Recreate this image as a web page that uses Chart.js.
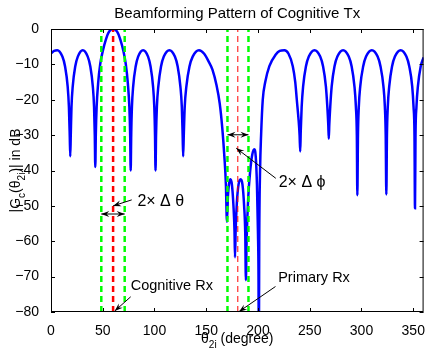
<!DOCTYPE html>
<html>
<head>
<meta charset="utf-8">
<script src="https://cdn.jsdelivr.net/npm/chart.js@4.4.0/dist/chart.umd.min.js"></script>
<style>
  html, body { margin: 0; padding: 0; background: #fff; }
  #wrap { width: 428px; height: 352px; }
</style>
</head>
<body>
<div id="wrap"><canvas id="patron" width="428" height="352"></canvas></div>
<script>
// Patron de beamforming: angulo en grados, ganancia en dB
var anguloGrados = [
  0, 3, 6, 11.0, 13.6, 16.1, 17.3, 18.1, 18.6,
  19.1, 19.8, 21.0, 23.4, 25.9, 30.7, 35.5, 38.0, 40.4, 41.6, 42.3, 42.8,
  43.3, 44.1, 45.5, 47.5, 50, 53, 56, 60, 64, 67, 70, 72.3, 74.3, 75.7, 76.5, 77,
  77.5, 78.2, 79.4, 81.8, 84.2, 89, 93.8, 96.2, 98.6, 99.8, 100.5, 101,
  101.5, 102.3, 103.7, 106.3, 109, 114.4, 119.7, 122.4, 125, 126.4, 127.2, 127.7,
  128.3, 129.2, 130.8, 133.8, 136.9, 143, 148, 152, 156, 160, 163, 165.5, 167.5, 169, 170,
  171, 172.2, 173.4, 174.8, 176.3, 177.3, 177.8, 178.4, 179.6, 181.2, 183.3, 185, 186.6, 187.7, 188.3,
  189, 190.5, 192.5, 194.5, 196.3, 197.8, 199, 200, 200.5, 200.8,
  201.2, 202, 203, 204.6, 207, 211, 217, 221, 225.5, 229.5, 233.6, 236, 237.5, 239.3, 240.2, 240.8,
  241.3, 242.2, 243.6, 246.3, 249.1, 254.6, 260.1, 262.9, 265.6, 267, 267.9, 268.4,
  268.9, 269.8, 271.2, 273.9, 276.7, 282.2, 287.7, 290.5, 293.2, 294.6, 295.5, 296,
  296.6, 297.4, 298.8, 301.6, 304.4, 310, 315.6, 318.4, 321.2, 322.6, 323.4, 324,
  324.6, 325.4, 326.8, 329.5, 332.3, 337.9, 343.4, 346.2, 349, 350.3, 351.2, 351.7,
  352.2, 353.1, 354.5, 357.2, 360
];
var gananciaDb = [
  -6.9, -6.2, -6.0, -7.8, -10.6, -16.2, -22, -30, -36,
  -30, -22, -16.2, -10.6, -7.8, -6, -7.8, -10.6, -16.2, -22, -30, -39,
  -30, -22, -15.5, -10, -6.3, -3, -0.8, 0, -0.8, -3, -6.3, -10, -15.5, -22, -30, -40,
  -30, -22, -16.2, -10.6, -7.8, -6, -7.8, -10.6, -16.2, -22, -30, -40,
  -30, -22, -16.2, -10.6, -7.8, -6, -7.8, -10.6, -16.2, -22, -30, -36,
  -30, -22, -16.2, -10.6, -7.8, -6, -7, -9, -11.5, -16, -21, -28, -36, -44, -54.5,
  -47, -43.5, -42.5, -44, -50, -57, -64.5, -57, -49, -44, -42.5, -44, -50, -58, -71,
  -60, -48, -40, -35.5, -34, -36, -44, -58, -70, -95,
  -60, -40, -30, -20, -15, -10.5, -7.3, -6.2, -6, -7, -10.5, -15, -20, -26, -30, -34.6,
  -29, -22, -16.2, -10.6, -7.8, -6, -7.8, -10.6, -16.2, -22, -27, -31,
  -27, -22, -16.2, -10.6, -7.8, -6, -7.8, -10.6, -16.2, -22, -30, -47,
  -30, -22, -16.2, -10.6, -7.8, -6, -7.8, -10.6, -16.2, -22, -30, -46.8,
  -30, -22, -16.2, -10.6, -7.8, -6, -7.8, -10.6, -16.2, -22, -30, -50.7,
  -30, -22, -16.2, -10.6, -8
];
var xTicks = [0, 50, 100, 150, 200, 250, 300, 350];
var yTicks = [0, -10, -20, -30, -40, -50, -60, -70, -80];

// Receptores y bandas (grados)
var rxCognitivo = 60;
var bandaCognitiva = [48.6, 71.2];
var rxPrimario = 180.5;
var bandaPrimaria = [170.5, 190.8];

var fuente = '"Liberation Sans", Arial, Helvetica, sans-serif';

// Anotaciones en coordenadas de datos
var notas = [
  { texto: '2\u00d7 \u0394 \u03b8', x: 83.5, y: -50, tam: 16, desde: [78, -48.3], hasta: [rxCognitivo, -50] },
  { texto: '2\u00d7 \u0394 \u03d5', x: 220, y: -44.6, tam: 16, desde: [217.2, -42.2], hasta: [rxPrimario - 1.5, -33.7] },
  { texto: 'Cognitive Rx', x: 77, y: -73.8, tam: 14.5, desde: [77, -75.7], hasta: [61.6, -79.7] },
  { texto: 'Primary Rx', x: 219.5, y: -71.4, tam: 14.5, desde: [216.9, -72.8], hasta: [181.6, -79.9] }
];
var dobles = [
  { banda: bandaCognitiva, y: -52.3 },
  { banda: bandaPrimaria, y: -29.9 }
];

function lineaVertical(x, color, ancho) {
  return {
    data: [{ x: x, y: yTicks[yTicks.length - 1] }, { x: x, y: yTicks[0] }],
    borderColor: color,
    borderWidth: ancho,
    borderDash: [6, 4],
    pointRadius: 0,
    tension: 0
  };
}

// punta de flecha rellena en (x2,y2)
function punta(ctx, x1, y1, x2, y2) {
  var ang = Math.atan2(y2 - y1, x2 - x1);
  var largo = 8, ancho = 3;
  var c = Math.cos(ang), s = Math.sin(ang);
  ctx.beginPath();
  ctx.moveTo(x2, y2);
  ctx.lineTo(x2 - largo * c + ancho * s, y2 - largo * s - ancho * c);
  ctx.lineTo(x2 - largo * 0.65 * c, y2 - largo * 0.65 * s);
  ctx.lineTo(x2 - largo * c - ancho * s, y2 - largo * s + ancho * c);
  ctx.closePath();
  ctx.fill();
}

function flecha(ctx, x1, y1, x2, y2) {
  ctx.beginPath();
  ctx.moveTo(x1, y1);
  ctx.lineTo(x2, y2);
  ctx.stroke();
  punta(ctx, x1, y1, x2, y2);
}

// texto con subindices, centrado en x
function textoCompuesto(ctx, partes, x, y, tam) {
  var total = 0;
  partes.forEach(function(p) {
    ctx.font = (p[1] ? tam * 0.72 : tam) + 'px ' + fuente;
    total += ctx.measureText(p[0]).width;
  });
  var cx = x - total / 2;
  partes.forEach(function(p) {
    ctx.font = (p[1] ? tam * 0.72 : tam) + 'px ' + fuente;
    ctx.fillText(p[0], cx, y + (p[1] ? tam * 0.38 : 0));
    cx += ctx.measureText(p[0]).width;
  });
}

var decorado = {
  id: 'decorado',
  afterDatasetsDraw: function(chart) {
    var ctx = chart.ctx;
    var a = chart.chartArea;
    var sx = chart.scales.x, sy = chart.scales.y;
    ctx.save();
    ctx.strokeStyle = '#000';
    ctx.fillStyle = '#000';
    ctx.lineWidth = 1;

    // caja y marcas hacia adentro
    ctx.strokeRect(a.left + 0.5, a.top + 0.5, a.right - a.left - 1, a.bottom - a.top - 1);
    ctx.beginPath();
    xTicks.forEach(function(v) {
      var px = Math.round(sx.getPixelForValue(v)) + 0.5;
      ctx.moveTo(px, a.bottom); ctx.lineTo(px, a.bottom - 4);
      ctx.moveTo(px, a.top); ctx.lineTo(px, a.top + 4);
    });
    yTicks.forEach(function(v) {
      var py = Math.round(sy.getPixelForValue(v)) + 0.5;
      ctx.moveTo(a.left, py); ctx.lineTo(a.left + 4, py);
      ctx.moveTo(a.right, py); ctx.lineTo(a.right - 4, py);
    });
    ctx.stroke();

    // flechas dobles entre las bandas
    dobles.forEach(function(d) {
      var x1 = sx.getPixelForValue(d.banda[0]), x2 = sx.getPixelForValue(d.banda[1]);
      var py = sy.getPixelForValue(d.y);
      ctx.beginPath(); ctx.moveTo(x1, py); ctx.lineTo(x2, py); ctx.stroke();
      punta(ctx, x2, py, x1, py);
      punta(ctx, x1, py, x2, py);
    });

    // notas con flecha
    ctx.textBaseline = 'alphabetic';
    ctx.textAlign = 'left';
    notas.forEach(function(n) {
      flecha(ctx, sx.getPixelForValue(n.desde[0]), sy.getPixelForValue(n.desde[1]),
                  sx.getPixelForValue(n.hasta[0]), sy.getPixelForValue(n.hasta[1]));
      ctx.font = n.tam + 'px ' + fuente;
      ctx.fillText(n.texto, sx.getPixelForValue(n.x), sy.getPixelForValue(n.y));
    });

    // titulo
    var centro = (a.left + a.right) / 2;
    ctx.textAlign = 'center';
    ctx.font = '15px ' + fuente;
    ctx.fillText('Beamforming Pattern of Cognitive Tx', centro, 18);

    // titulos de ejes
    ctx.textAlign = 'left';
    textoCompuesto(ctx, [['\u03b8', false], ['2i', true], [' (degree)', false]], centro, 343, 14);
    ctx.translate(20, (a.top + a.bottom) / 2);
    ctx.rotate(-Math.PI / 2);
    textoCompuesto(ctx, [['|G', false], ['c', true], ['(\u03b8', false], ['2i', true], [')| in dB', false]], 0, 0, 14);
    ctx.restore();
  }
};

var ctxPatron = document.getElementById('patron').getContext('2d');
var graficoPatron = new Chart(ctxPatron, {
  type: 'line',
  data: {
    datasets: [
      lineaVertical(bandaCognitiva[0], '#00ff00', 2.5),
      lineaVertical(bandaCognitiva[1], '#00ff00', 2.5),
      lineaVertical(rxCognitivo, '#ff0000', 2.5),
      lineaVertical(bandaPrimaria[0], '#00ff00', 2.5),
      lineaVertical(bandaPrimaria[1], '#00ff00', 2.5),
      lineaVertical(rxPrimario, '#ff0000', 1),
      {
        label: 'Gc',
        data: anguloGrados.map(function(a, i) { return { x: a, y: gananciaDb[i] }; }),
        borderColor: '#0000ff',
        borderWidth: 2.5,
        pointRadius: 0,
        cubicInterpolationMode: 'monotone'
      }
    ]
  },
  options: {
    responsive: false,
    animation: false,
    layout: { padding: { top: 29, right: 3, left: 0, bottom: 0 } },
    plugins: { legend: { display: false }, tooltip: { enabled: false } },
    scales: {
      x: {
        type: 'linear',
        min: 0,
        max: 360,
        afterBuildTicks: function(s) { s.ticks = xTicks.map(function(v) { return { value: v }; }); },
        afterFit: function(s) { s.height = 40; },
        grid: { display: false },
        border: { display: false },
        ticks: { color: '#000', font: { family: fuente, size: 14 }, padding: 3, maxRotation: 0, autoSkip: false }
      },
      y: {
        min: -80,
        max: 0,
        afterBuildTicks: function(s) { s.ticks = yTicks.map(function(v) { return { value: v }; }); },
        afterFit: function(s) { s.width = 51; },
        grid: { display: false },
        border: { display: false },
        ticks: {
          color: '#000', font: { family: fuente, size: 14 }, padding: 4, autoSkip: false,
          callback: function(v) { return v < 0 ? '\u2212' + Math.abs(v) : '' + v; }
        }
      }
    }
  },
  plugins: [decorado]
});
</script>
</body>
</html>
